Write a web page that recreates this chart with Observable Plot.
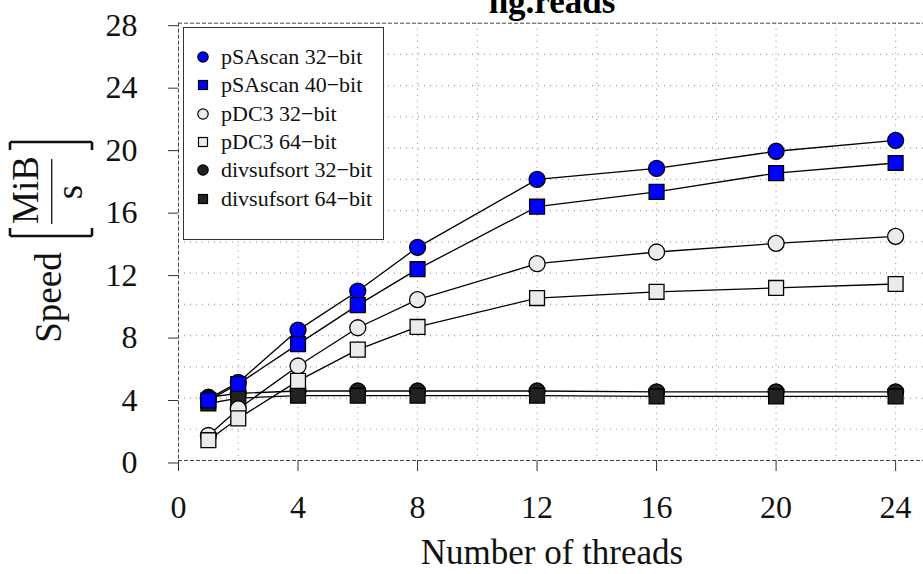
<!DOCTYPE html>
<html>
<head>
<meta charset="utf-8">
<script src="https://cdn.jsdelivr.net/npm/d3@7"></script>
<script src="https://cdn.jsdelivr.net/npm/@observablehq/plot@0.6"></script>
<style>
  html, body { margin: 0; padding: 0; background: #fff; }
  #wrap { position: relative; width: 923px; height: 574px; overflow: hidden; font-family: "Liberation Serif", serif; }
  #legend { position: absolute; left: 183px; top: 27px; width: 199px; height: 196px; border: 1.5px solid #333; background: #fff; padding-top: 15px; box-sizing: content-box; }
  .row { display: flex; align-items: center; height: 28.3px; font-size: 22px; color: #111; white-space: nowrap; }
  .row svg { margin-left: 9px; margin-right: 8px; }
</style>
</head>
<body>
<div id="wrap"></div>
<script>
// ---- data ----
const threads = [1, 2, 4, 6, 8, 12, 16, 20, 24];
const pSAscan32 = [3.95, 5.0, 8.35, 10.85, 13.65, 18.0, 18.7, 19.8, 20.5];
const pSAscan40 = [3.85, 4.9, 7.45, 9.95, 12.25, 16.25, 17.2, 18.4, 19.05];
const pDC3_32 = [1.6, 3.3, 6.05, 8.5, 10.3, 12.6, 13.35, 13.9, 14.35];
const pDC3_64 = [1.3, 2.7, 5.1, 7.1, 8.55, 10.4, 10.8, 11.05, 11.3];
const divsufsort32 = [4.05, 4.3, 4.45, 4.45, 4.45, 4.45, 4.4, 4.4, 4.4];
const divsufsort64 = [3.65, 4.0, 4.15, 4.15, 4.15, 4.15, 4.1, 4.1, 4.1];

const seriesNames = ["pSAscan 32−bit", "pSAscan 40−bit", "pDC3 32−bit", "pDC3 64−bit", "divsufsort 32−bit", "divsufsort 64−bit"];
const seriesValues = [pSAscan32, pSAscan40, pDC3_32, pDC3_64, divsufsort32, divsufsort64];
const seriesSymbols = ["circle", "square", "circle", "square", "circle", "square"];
const seriesFills = ["#0000ff", "#0000ff", "#ebebeb", "#ebebeb", "#222222", "#222222"];
const drawOrder = [4, 5, 2, 3, 0, 1];

const xTicks = [0, 4, 8, 12, 16, 20, 24];
const yTicks = [0, 4, 8, 12, 16, 20, 24, 28];
const xGrid = [2, 4, 6, 8, 10, 12, 14, 16, 18, 20, 22, 24];
const yGrid = [2, 4, 6, 8, 10, 12, 14, 16, 18, 20, 22, 24, 26];

const titleText = "hg.reads";
const xLabel = "Number of threads";

// ---- table ----
const table = [];
seriesNames.forEach((name, i) => {
  threads.forEach((t, j) => table.push({series: name, idx: i, threads: t, speed: seriesValues[i][j]}));
});

const seriesMarks = [];
for (const i of drawOrder) {
  const d = table.filter(r => r.idx === i);
  seriesMarks.push(Plot.line(d, {x: "threads", y: "speed", stroke: "#000", strokeWidth: 1.3}));
  seriesMarks.push(Plot.dot(d, {
    x: "threads", y: "speed", symbol: seriesSymbols[i],
    r: seriesSymbols[i] === "square" ? 8.4 : 8,
    fill: seriesFills[i], stroke: "#000", strokeWidth: 1.3
  }));
}

const dashed = {stroke: "#444", strokeDasharray: "4,2", strokeWidth: 1};

const chart = Plot.plot({
  width: 923,
  height: 574,
  marginLeft: 178,
  marginRight: -2,
  marginTop: 22.7,
  marginBottom: 114,
  style: {fontFamily: "Liberation Serif, serif", background: "#fff", color: "#111", overflow: "visible"},
  x: {domain: [0, 25]},
  y: {domain: [0, 28]},
  marks: [
    Plot.gridX(xGrid, {stroke: "#9a9a9a", strokeOpacity: 1, strokeDasharray: "1,5", strokeWidth: 1.2}),
    Plot.gridY(yGrid, {stroke: "#9a9a9a", strokeOpacity: 1, strokeDasharray: "1,5", strokeWidth: 1.2}),
    Plot.ruleY([0, 28], dashed),
    Plot.ruleX([0], dashed),
    Plot.axisX({ticks: xTicks, tickSize: 11, tickPadding: 24, fontSize: 32, label: null, stroke: "#333"}),
    Plot.axisY({ticks: yTicks, tickSize: 10, tickPadding: 31, fontSize: 32, label: null, dy: 2.5, stroke: "#333"}),
    ...seriesMarks,
    Plot.text([titleText], {text: d => d, frameAnchor: "top", lineAnchor: "bottom", dy: -10, fontSize: 35, fontWeight: "bold", fill: "#000"}),
    Plot.text([xLabel], {text: d => d, frameAnchor: "bottom", lineAnchor: "bottom", dy: 103, fontSize: 35, fill: "#111"})
  ]
});

document.getElementById("wrap").appendChild(chart);

// ---- y-axis label: Speed [MiB / s] ----
const svg = d3.select(chart);
const g = svg.append("g")
  .attr("transform", "translate(0,300) rotate(-90)")
  .attr("font-family", "Liberation Serif, serif")
  .attr("text-anchor", "middle")
  .attr("fill", "#111");
g.append("text").attr("x", 2.5).attr("y", 61).attr("font-size", 37).text("Speed");
g.append("path").attr("d", "M64,10 V92 M64,10 H72 M64,92 H72")
  .attr("fill", "none").attr("stroke", "#111").attr("stroke-width", 2.6);
g.append("text").attr("x", 110).attr("y", 38).attr("font-size", 37).text("MiB");
g.append("path").attr("d", "M76,51.7 H141").attr("stroke", "#111").attr("stroke-width", 1.3);
g.append("text").attr("x", 108).attr("y", 81.5).attr("font-size", 37).text("s");
g.append("path").attr("d", "M158,10 V92 M158,10 H150 M158,92 H150")
  .attr("fill", "none").attr("stroke", "#111").attr("stroke-width", 2.6);

// ---- legend ----
const legend = d3.select("#wrap").append("div").attr("id", "legend");
seriesNames.forEach((name, i) => {
  const row = legend.append("div").attr("class", "row");
  const s = row.append("svg").attr("width", 20).attr("height", 20);
  if (seriesSymbols[i] === "circle") {
    s.append("circle").attr("cx", 10).attr("cy", 10).attr("r", 5.2)
      .attr("fill", seriesFills[i]).attr("stroke", "#000").attr("stroke-width", 1.2);
  } else {
    s.append("rect").attr("x", 5.5).attr("y", 5.5).attr("width", 9).attr("height", 9)
      .attr("fill", seriesFills[i]).attr("stroke", "#000").attr("stroke-width", 1.2);
  }
  row.append("span").text(name);
});
</script>
</body>
</html>
